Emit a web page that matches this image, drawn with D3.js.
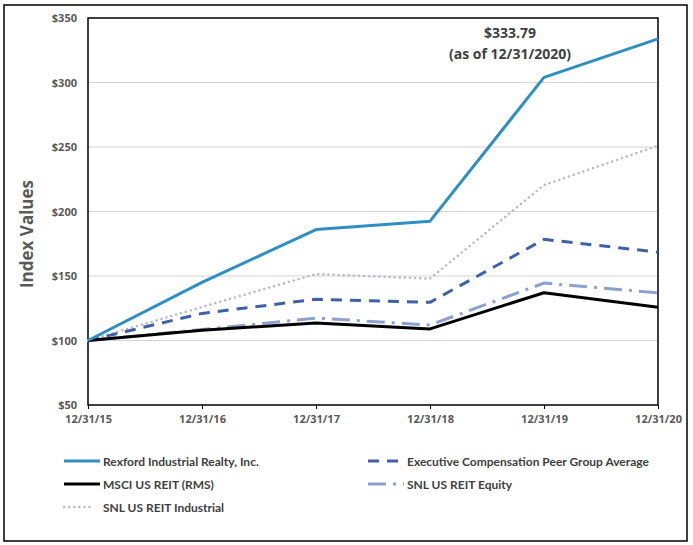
<!DOCTYPE html>
<html>
<head>
<meta charset="utf-8">
<script src="https://cdn.jsdelivr.net/npm/d3@7"></script>
<style>
  body { margin: 0; background: #fff; }
  text { font-family: "Open Sans", "DejaVu Sans", sans-serif; }
</style>
</head>
<body>
<svg id="chart" width="693" height="545"></svg>
<script>
// data
const dates = ["12/31/15", "12/31/16", "12/31/17", "12/31/18", "12/31/19", "12/31/20"]
const rexford = [100, 145, 186, 192.5, 304, 333.79]
const peerAvg = [100, 121, 132, 129.6, 178.4, 168.5]
const msci = [100, 108, 113.5, 109, 137, 125.8]
const snlEquity = [100, 108.5, 117.4, 112, 144.5, 137]
const snlIndustrial = [100, 126, 151.5, 148, 220.5, 251]
const yTicks = [50, 100, 150, 200, 250, 300, 350]

const series = [
  { name: "Rexford Industrial Realty, Inc.", values: rexford, color: "#2f8fc0", width: 3, dash: null },
  { name: "Executive Compensation Peer Group Average", values: peerAvg, color: "#3f62a6", width: 3, dash: "11,8" },
  { name: "MSCI US REIT (RMS)", values: msci, color: "#000000", width: 3, dash: null },
  { name: "SNL US REIT Equity", values: snlEquity, color: "#8ea0d2", width: 3, dash: "18,7,3,7" },
  { name: "SNL US REIT Industrial", values: snlIndustrial, color: "#b9bac8", width: 2.5, dash: "0.1,5", cap: "round" }
]

const svg = d3.select("#chart")
const plotL = 88, plotR = 658, plotT = 18, plotB = 405

// outer frame
svg.append("rect")
  .attr("x", 4).attr("y", 5).attr("width", 683).attr("height", 536)
  .attr("fill", "none").attr("stroke", "#000").attr("stroke-width", 1.5)

const x = d3.scalePoint().domain(dates).range([plotL, plotR])
const y = d3.scaleLinear().domain([50, 350]).range([plotB, plotT])

// gridlines
svg.append("g")
  .selectAll("line")
  .data(yTicks.slice(1, -1))
  .join("line")
  .attr("x1", plotL).attr("x2", plotR)
  .attr("y1", d => y(d)).attr("y2", d => y(d))
  .attr("stroke", "#d4d4d4").attr("stroke-width", 1)

// y axis labels
const yAxis = svg.append("g")
  .attr("transform", `translate(${plotL},0)`)
  .call(d3.axisLeft(y).tickValues(yTicks).tickSize(0).tickPadding(11).tickFormat(d => "$" + d))
yAxis.select(".domain").remove()
yAxis.selectAll("text")
  .attr("font-size", 11).attr("font-weight", "bold").attr("fill", "#595959")

// x axis
const xAxis = svg.append("g")
  .attr("transform", `translate(0,${plotB})`)
  .call(d3.axisBottom(x).tickSize(4).tickPadding(6))
xAxis.select(".domain").remove()
xAxis.selectAll("line").attr("stroke", "#000")
xAxis.selectAll("text")
  .attr("font-size", 11).attr("font-weight", "bold").attr("fill", "#595959")

// plot frame
svg.append("rect")
  .attr("x", plotL).attr("y", plotT).attr("width", plotR - plotL).attr("height", plotB - plotT)
  .attr("fill", "none").attr("stroke", "#000").attr("stroke-width", 1.5)

// axis title
svg.append("text")
  .attr("transform", "translate(33,234) rotate(-90)")
  .attr("text-anchor", "middle")
  .attr("font-size", 17).attr("font-weight", "bold").attr("fill", "#595959")
  .text("Index Values")

// lines
const line = d3.line()
  .x((d, i) => x(dates[i]))
  .y(d => y(d))

// draw back to front so Rexford is on top
const drawOrder = [4, 3, 1, 2, 0]
drawOrder.forEach(k => {
  const s = series[k]
  svg.append("path")
    .datum(s.values)
    .attr("d", line)
    .attr("fill", "none")
    .attr("stroke", s.color)
    .attr("stroke-width", s.width)
    .attr("stroke-dasharray", s.dash)
    .attr("stroke-linecap", s.cap || "butt")
    .attr("stroke-linejoin", "round")
})

// annotation
const ann = svg.append("text")
  .attr("text-anchor", "middle")
  .attr("font-size", 14).attr("font-weight", "bold").attr("fill", "#404040")
ann.append("tspan").attr("x", 510).attr("y", 38).text("$" + rexford[5].toFixed(2))
ann.append("tspan").attr("x", 510).attr("y", 59).text("(as of 12/31/2020)")

// legend
const legendPos = [
  { x: 64, y: 461, len: 36, tx: 103 }, { x: 368, y: 461, len: 32, tx: 407 },
  { x: 64, y: 484, len: 36, tx: 103 }, { x: 368, y: 484, len: 36, tx: 407 },
  { x: 64, y: 507, len: 30, tx: 103 }
]
series.forEach((s, i) => {
  const p = legendPos[i]
  const g = svg.append("g").attr("transform", `translate(0,${p.y})`)
  g.append("line")
    .attr("x1", p.x).attr("x2", p.x + p.len).attr("y1", 0).attr("y2", 0)
    .attr("stroke", s.color).attr("stroke-width", s.width)
    .attr("stroke-dasharray", s.dash)
    .attr("stroke-linecap", s.cap || "butt")
  g.append("text")
    .attr("x", p.tx).attr("y", 4.5)
    .attr("font-size", 12).attr("font-weight", "bold").attr("fill", "#404040")
    .style("font-family", "Lato, sans-serif")
    .text(s.name)
})
</script>
</body>
</html>
